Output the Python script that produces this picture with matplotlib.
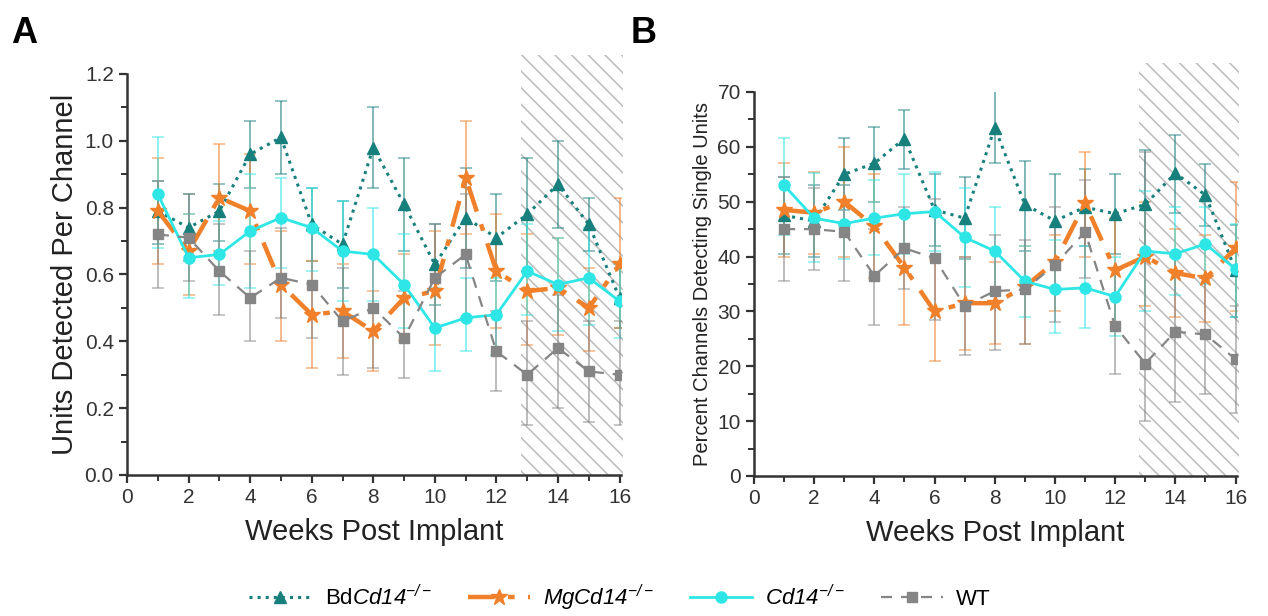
import numpy as np
import matplotlib.pyplot as plt
from matplotlib.patches import Rectangle
from matplotlib.ticker import MultipleLocator

plt.rcParams['font.family'] = ['Liberation Sans', 'DejaVu Sans']
plt.rcParams['mathtext.fontset'] = 'custom'
plt.rcParams['mathtext.rm'] = 'Liberation Sans:italic'
plt.rcParams['mathtext.it'] = 'Liberation Sans:italic'
plt.rcParams['mathtext.default'] = 'it'

weeks = np.arange(1, 17)

# Panel A: units detected per channel
bd_a = [0.79, 0.74, 0.79, 0.96, 1.01, 0.75, 0.69, 0.98, 0.81, 0.63, 0.77, 0.71, 0.78, 0.87, 0.75, 0.53]
bd_a_hi = [0.88, 0.84, 0.87, 1.06, 1.12, 0.86, 0.82, 1.10, 0.95, 0.75, 0.92, 0.84, 0.95, 1.00, 0.83, 0.62]
bd_a_lo = [0.69, 0.64, 0.70, 0.86, 0.90, 0.64, 0.56, 0.86, 0.67, 0.51, 0.62, 0.58, 0.61, 0.74, 0.67, 0.44]
mg_a = [0.79, 0.67, 0.83, 0.79, 0.57, 0.48, 0.49, 0.43, 0.53, 0.55, 0.89, 0.61, 0.55, 0.56, 0.50, 0.63]
mg_a_hi = [0.95, 0.78, 0.99, 0.96, 0.73, 0.64, 0.63, 0.55, 0.66, 0.73, 1.06, 0.78, 0.72, 0.71, 0.62, 0.83]
mg_a_lo = [0.63, 0.54, 0.67, 0.63, 0.40, 0.32, 0.35, 0.31, 0.40, 0.39, 0.72, 0.44, 0.39, 0.42, 0.37, 0.44]
cd_a = [0.84, 0.65, 0.66, 0.73, 0.77, 0.74, 0.67, 0.66, 0.57, 0.44, 0.47, 0.48, 0.61, 0.57, 0.59, 0.52]
cd_a_hi = [1.01, 0.78, 0.76, 0.90, 0.89, 0.86, 0.82, 0.80, 0.72, 0.56, 0.59, 0.59, 0.75, 0.71, 0.74, 0.63]
cd_a_lo = [0.68, 0.53, 0.57, 0.56, 0.62, 0.61, 0.52, 0.52, 0.44, 0.31, 0.37, 0.36, 0.48, 0.43, 0.45, 0.41]
wt_a = [0.72, 0.71, 0.61, 0.53, 0.59, 0.57, 0.46, 0.50, 0.41, 0.59, 0.66, 0.37, 0.30, 0.38, 0.31, 0.30]
wt_a_hi = [0.88, 0.84, 0.75, 0.67, 0.74, 0.73, 0.62, 0.66, 0.55, 0.75, 0.84, 0.49, 0.46, 0.54, 0.46, 0.46]
wt_a_lo = [0.56, 0.58, 0.48, 0.40, 0.47, 0.41, 0.30, 0.32, 0.29, 0.44, 0.47, 0.25, 0.15, 0.20, 0.16, 0.15]

# Panel B: percent channels detecting single units
bd_b = [47.5, 46.5, 55.0, 57.0, 61.5, 48.5, 47.0, 63.5, 49.5, 46.5, 49.0, 47.8, 49.5, 55.2, 51.2, 37.5]
bd_b_hi = [54.5, 53.0, 61.7, 63.7, 66.7, 55.0, 54.5, 70.5, 57.5, 55.0, 56.0, 55.0, 59.4, 62.1, 56.8, 45.7]
bd_b_lo = [40.5, 40.0, 48.5, 50.0, 56.0, 42.0, 39.5, 57.0, 41.0, 39.0, 42.0, 40.5, 39.5, 48.0, 45.5, 29.0]
mg_b = [48.5, 48.0, 50.0, 45.5, 38.0, 30.0, 31.5, 31.5, 34.5, 39.0, 49.7, 37.5, 40.0, 37.0, 36.0, 41.5]
mg_b_hi = [57.0, 55.5, 60.0, 55.0, 48.0, 39.5, 40.0, 39.0, 42.0, 44.0, 59.0, 47.0, 50.0, 45.0, 44.0, 53.5]
mg_b_lo = [40.0, 40.5, 40.0, 36.0, 27.5, 21.0, 23.0, 24.0, 24.0, 30.0, 40.0, 28.0, 31.0, 29.0, 28.0, 30.0]
cd_b = [53.0, 47.0, 46.0, 47.0, 47.8, 48.2, 43.5, 41.0, 35.5, 34.0, 34.3, 32.7, 41.0, 40.5, 42.3, 37.7]
cd_b_hi = [61.7, 55.3, 53.0, 54.0, 55.0, 55.5, 52.5, 49.0, 42.0, 43.0, 42.0, 40.0, 52.0, 49.0, 49.0, 46.0]
cd_b_lo = [44.0, 39.0, 39.5, 40.3, 40.5, 41.0, 34.5, 33.0, 29.0, 26.0, 27.0, 25.5, 30.0, 33.0, 35.0, 29.0]
wt_b = [45.0, 45.0, 44.5, 36.5, 41.5, 39.7, 31.0, 33.7, 34.0, 38.5, 44.5, 27.3, 20.5, 26.3, 25.8, 21.3]
wt_b_hi = [54.5, 52.5, 53.0, 45.0, 49.0, 50.5, 40.0, 44.0, 43.0, 49.0, 54.0, 38.0, 59.0, 40.0, 36.0, 31.0]
wt_b_lo = [35.5, 37.5, 35.5, 27.5, 34.0, 28.5, 22.0, 23.0, 24.0, 28.0, 36.0, 18.5, 10.0, 13.5, 15.0, 11.5]

legend_labels = [r'Bd$Cd14^{-/-}$', r'$MgCd14^{-/-}$', r'$Cd14^{-/-}$', 'WT']

c_bd = '#17807d'
c_mg = '#f0802a'
c_cd = '#2fe6e6'
c_wt = '#858585'

styles = [
    dict(color=c_bd, ls=':', lw=2.2, marker='^', ms=9),
    dict(color=c_mg, ls=(0, (6, 3, 1.5, 3)), lw=3.2, marker='*', ms=12),
    dict(color=c_cd, ls='-', lw=2.0, marker='o', ms=8),
    dict(color=c_wt, ls=(0, (5, 4)), lw=1.6, marker='s', ms=7),
]


def draw_panel(ax, series, ymax, ymajor, yminor, hatch_top):
    for (mean, hi, lo), st in zip(series, styles):
        mean = np.array(mean)
        err = [mean - np.array(lo), np.array(hi) - mean]
        ax.errorbar(weeks, mean, yerr=err, fmt='none', ecolor=st['color'],
                    elinewidth=1.4, capsize=4, capthick=1.2, alpha=0.55, zorder=2)
    handles = []
    for (mean, hi, lo), st in zip(series, styles):
        h, = ax.plot(weeks, mean, color=st['color'], ls=st['ls'], lw=st['lw'],
                     marker=st['marker'], ms=st['ms'], mec=st['color'], zorder=3)
        handles.append(h)
    ax.add_patch(Rectangle((12.8, 0), 3.3, hatch_top, transform=ax.get_xaxis_transform(),
                           facecolor='none', edgecolor='#bbbbbb', hatch='\\\\',
                           lw=0, clip_on=False, zorder=1))
    ax.set_xlim(0, 16.05)
    ax.set_ylim(0, ymax)
    ax.xaxis.set_major_locator(MultipleLocator(2))
    ax.xaxis.set_minor_locator(MultipleLocator(1))
    ax.yaxis.set_major_locator(MultipleLocator(ymajor))
    ax.yaxis.set_minor_locator(MultipleLocator(yminor))
    for s in ['top', 'right']:
        ax.spines[s].set_visible(False)
    for s in ['left', 'bottom']:
        ax.spines[s].set_linewidth(1.8)
        ax.spines[s].set_color('#333333')
    ax.tick_params(which='major', length=6, width=1.6, labelsize=15, colors='#333333')
    ax.tick_params(which='minor', length=4, width=1.4, colors='#333333')
    ax.set_xlabel('Weeks Post Implant', fontsize=21, color='#222222', labelpad=8)
    return handles


plt.rcParams['hatch.linewidth'] = 1.1
fig = plt.figure(figsize=(12.68, 6.16), dpi=100)
axA = fig.add_axes([0.1002, 0.2289, 0.3896, 0.651])
axB = fig.add_axes([0.5946, 0.2273, 0.381, 0.6234])

handles = draw_panel(axA, [(bd_a, bd_a_hi, bd_a_lo), (mg_a, mg_a_hi, mg_a_lo),
                           (cd_a, cd_a_hi, cd_a_lo), (wt_a, wt_a_hi, wt_a_lo)],
                     1.2, 0.2, 0.1, 1.047)
axA.yaxis.set_major_formatter(plt.FuncFormatter(lambda v, p: f'{v:.1f}'))
axA.set_ylabel('Units Detected Per Channel', fontsize=21, color='#222222')

draw_panel(axB, [(bd_b, bd_b_hi, bd_b_lo), (mg_b, mg_b_hi, mg_b_lo),
                 (cd_b, cd_b_hi, cd_b_lo), (wt_b, wt_b_hi, wt_b_lo)],
           70, 10, 5, 1.075)
axB.set_ylabel('Percent Channels Detecting Single Units', fontsize=14.5, color='#222222')

fig.text(0.009, 0.945, 'A', fontsize=26, fontweight='bold', va='center')
fig.text(0.497, 0.945, 'B', fontsize=26, fontweight='bold', va='center')

fig.legend(handles, legend_labels, loc='center', bbox_to_anchor=(0.489, 0.03),
           ncol=4, frameon=False, fontsize=16, handlelength=2.8, handletextpad=0.6,
           columnspacing=1.6)

fig.savefig('out.png', dpi=100)
